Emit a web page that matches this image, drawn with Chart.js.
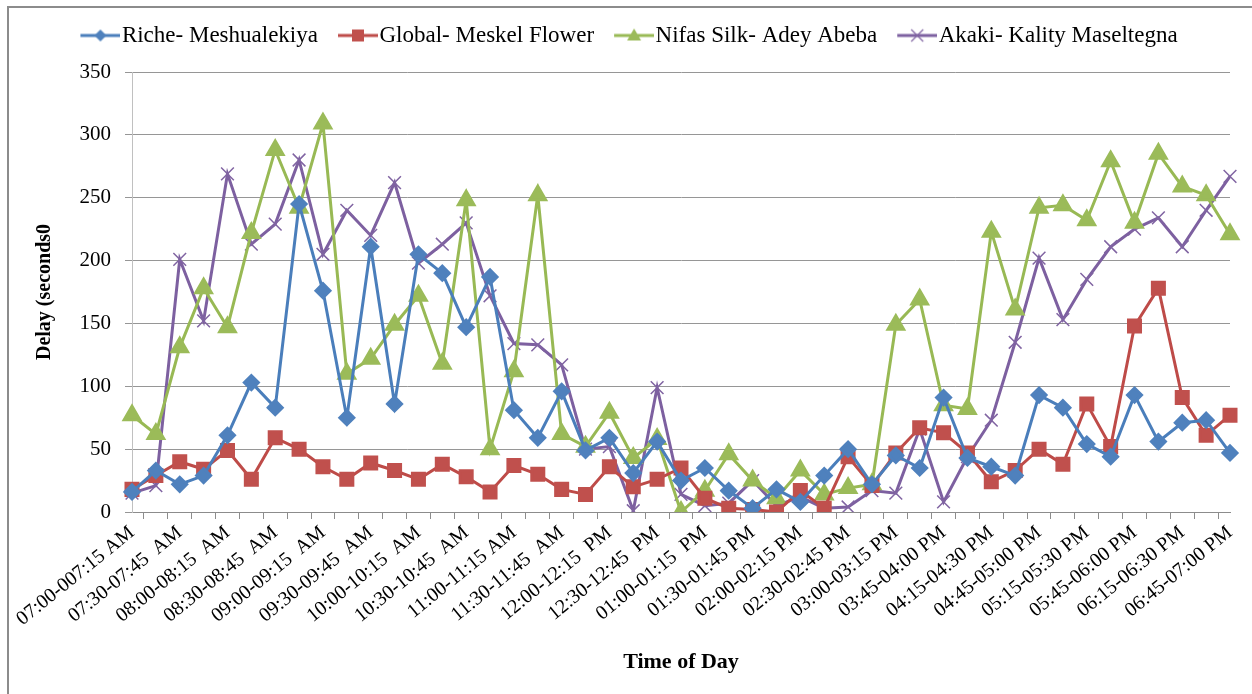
<!DOCTYPE html>
<html>
<head>
<meta charset="utf-8">
<script src="https://cdn.jsdelivr.net/npm/chart.js@4.4.1/dist/chart.umd.min.js"></script>
<style>
  html, body { margin: 0; padding: 0; background: #fff; overflow: hidden; }
  #wrap { position: relative; width: 1252px; height: 694px; }
  #frame { position: absolute; left: 7px; top: 6px; width: 1300px; height: 800px; border: 2px solid #8c8c8c; }
  canvas { position: absolute; left: 0; top: 0; }
</style>
</head>
<body>
<div id="wrap"><div id="frame"></div><canvas id="delayChart" width="1252" height="694"></canvas></div>
<script>
var timeSlots = [
  '07:00-007:15 AM', '07:15-07:30 AM', '07:30-07:45  AM', '07:45-08:00 AM',
  '08:00-08:15  AM', '08:15-08:30 AM', '08:30-08:45  AM', '08:45-09:00 AM',
  '09:00-09:15  AM', '09:15-09:30 AM', '09:30-09:45  AM', '09:45-10:00 AM',
  '10:00-10:15  AM', '10:15-10:30 AM', '10:30-10:45  AM', '10:45-11:00 AM',
  '11:00-11:15 AM', '11:15-11:30 AM', '11:30-11:45  AM', '11:45-12:00 PM',
  '12:00-12:15  PM', '12:15-12:30 PM', '12:30-12:45  PM', '12:45-01:00 PM',
  '01:00-01:15  PM', '01:15-01:30 PM', '01:30-01:45 PM', '01:45-02:00 PM',
  '02:00-02:15 PM', '02:15-02:30 PM', '02:30-02:45 PM', '02:45-03:00 PM',
  '03:00-03:15 PM', '03:15-03:30 PM', '03:45-04:00 PM', '04:00-04:15 PM',
  '04:15-04:30 PM', '04:30-04:45 PM', '04:45-05:00 PM', '05:00-05:15 PM',
  '05:15-05:30 PM', '05:30-05:45 PM', '05:45-06:00 PM', '06:00-06:15 PM',
  '06:15-06:30 PM', '06:30-06:45 PM', '06:45-07:00 PM'
];

var richeMeshualekiya = [16, 33, 22, 29, 61, 103, 83, 245, 176, 75, 211, 86,
  205, 190, 147, 187, 81, 59, 96, 49, 59, 31, 56, 25,
  35, 17, 3, 18, 8, 29, 50, 22, 45, 35, 91, 43,
  36, 29, 93, 83, 54, 44, 93, 56, 71, 73, 47];
var globalMeskelFlower = [18, 29, 40, 34, 49, 26, 59, 50, 36, 26, 39, 33,
  26, 38, 28, 16, 37, 30, 18, 14, 36, 20, 26, 35,
  11, 3, 2, 0, 17, 3, 44, 21, 47, 67, 63, 47,
  24, 33, 50, 38, 86, 52, 148, 178, 91, 61, 77];
var nifasSilkAdeyAbeba = [77, 62, 131, 178, 147, 222, 288, 242, 309, 110, 122, 149,
  172, 118, 248, 50, 112, 252, 62, 52, 79, 43, 58, 0,
  17, 46, 25, 11, 33, 14, 19, 22, 149, 169, 85, 82,
  223, 161, 242, 244, 232, 279, 230, 285, 259, 252, 221];
var akakiKality = [15, 21, 201, 152, 269, 213, 229, 280, 205, 240, 220, 262,
  198, 213, 230, 172, 134, 133, 117, 50, 52, 1, 99, 14,
  5, 7, 25, 5, 12, 3, 4, 17, 15, 66, 8, 44,
  73, 135, 202, 153, 185, 211, 225, 234, 211, 240, 267];

var yTicks = [0, 50, 100, 150, 200, 250, 300, 350];

var serif = "'Liberation Serif', 'Times New Roman', serif";

// legend icon: line with the marker on top, like Excel
// canvas is wider than the visible part so the line sits right before the text
function makeIcon(lineColor, fill, shape) {
  var c = document.createElement('canvas');
  c.width = 58; c.height = 20;
  var g = c.getContext('2d');
  var cx = 38;
  g.strokeStyle = lineColor; g.lineWidth = 3;
  g.beginPath(); g.moveTo(18, 10); g.lineTo(58, 10); g.stroke();
  g.fillStyle = fill; g.strokeStyle = fill;
  g.beginPath();
  if (shape === 'diamond') {
    g.moveTo(cx, 4); g.lineTo(cx + 6, 10); g.lineTo(cx, 16); g.lineTo(cx - 6, 10); g.closePath(); g.fill();
  } else if (shape === 'square') {
    g.rect(cx - 6, 4, 12, 12); g.fill();
  } else if (shape === 'triangle') {
    g.moveTo(cx, 3); g.lineTo(cx + 7, 15); g.lineTo(cx - 7, 15); g.closePath(); g.fill();
  } else {
    g.lineWidth = 1.2;
    g.moveTo(cx - 6, 4); g.lineTo(cx + 6, 16); g.moveTo(cx + 6, 4); g.lineTo(cx - 6, 16); g.stroke();
  }
  return c;
}

var legendIcons = [
  makeIcon('#4A7EBB', '#4F81BD', 'diamond'),
  makeIcon('#BE4B48', '#C0504D', 'square'),
  makeIcon('#98B954', '#9BBB59', 'triangle'),
  makeIcon('#7D60A0', '#8064A2', 'cross')
];

// more room between legend and plot
var legendGap = {
  id: 'legendGap',
  beforeInit: function (chart) {
    var fit = chart.legend.fit;
    chart.legend.fit = function () {
      fit.call(this);
      this.height += 15;
    };
  }
};

var ctx = document.getElementById('delayChart').getContext('2d');

var delayChart = new Chart(ctx, {
  type: 'line',
  data: {
    labels: timeSlots,
    datasets: [{
      label: 'Riche- Meshualekiya',
      data: richeMeshualekiya,
      borderColor: '#4A7EBB',
      backgroundColor: '#4F81BD',
      pointBackgroundColor: '#4F81BD',
      pointBorderColor: '#4F81BD',
      pointStyle: 'rectRot',
      pointRadius: 7,
      borderWidth: 3
    }, {
      label: 'Global- Meskel Flower',
      data: globalMeskelFlower,
      borderColor: '#BE4B48',
      backgroundColor: '#C0504D',
      pointBackgroundColor: '#C0504D',
      pointBorderColor: '#C0504D',
      pointStyle: 'rect',
      pointRadius: 8.5,
      borderWidth: 3
    }, {
      label: 'Nifas Silk- Adey Abeba',
      data: nifasSilkAdeyAbeba,
      borderColor: '#98B954',
      backgroundColor: '#9BBB59',
      pointBackgroundColor: '#9BBB59',
      pointBorderColor: '#9BBB59',
      pointStyle: 'triangle',
      pointRadius: 9,
      borderWidth: 3
    }, {
      label: 'Akaki- Kality Maseltegna',
      data: akakiKality,
      borderColor: '#7D60A0',
      backgroundColor: '#8064A2',
      pointBackgroundColor: '#8064A2',
      pointBorderColor: '#8064A2',
      pointStyle: 'crossRot',
      pointRadius: 9,
      pointBorderWidth: 1.5,
      borderWidth: 3
    }]
  },
  plugins: [legendGap],
  options: {
    responsive: false,
    animation: false,
    layout: { padding: { left: 20, right: 22, top: 12, bottom: 10 } },
    plugins: {
      tooltip: { enabled: false },
      legend: {
        position: 'top',
        labels: {
          color: '#000',
          font: { family: serif, size: 23 },
          usePointStyle: true,
          pointStyleWidth: 38,
          padding: 12,
          generateLabels: function (chart) {
            var items = Chart.defaults.plugins.legend.labels.generateLabels(chart);
            items.forEach(function (it, i) { it.pointStyle = legendIcons[i]; });
            return items;
          }
        }
      }
    },
    scales: {
      x: {
        grid: { offset: true, drawOnChartArea: false, tickLength: 7, color: '#8c8c8c' },
        border: { color: '#8c8c8c' },
        ticks: {
          autoSkip: false,
          minRotation: 39,
          maxRotation: 39,
          padding: 2,
          color: '#000',
          font: { family: serif, size: 20 },
          callback: function (v, i) { return i % 2 === 0 ? this.getLabelForValue(v) : ''; }
        },
        title: {
          display: true,
          text: 'Time of Day',
          color: '#000',
          font: { family: serif, size: 22, weight: 'bold' },
          padding: { top: 4, bottom: 8 }
        },
        afterFit: function (s) { s.height = 172; }
      },
      y: {
        min: 0,
        max: 350,
        afterBuildTicks: function (s) { s.ticks = yTicks.map(function (v) { return { value: v }; }); },
        ticks: { padding: 14, color: '#000', font: { family: serif, size: 21 } },
        grid: { color: '#969696', tickLength: 7 },
        border: { color: '#c0c0c0' },
        title: {
          display: true,
          text: 'Delay (seconds0',
          color: '#000',
          font: { family: serif, size: 20, weight: 'bold' },
          padding: { top: 13, bottom: 0 }
        },
        afterFit: function (s) { s.width = 112; }
      }
    }
  }
});
</script>
</body>
</html>
